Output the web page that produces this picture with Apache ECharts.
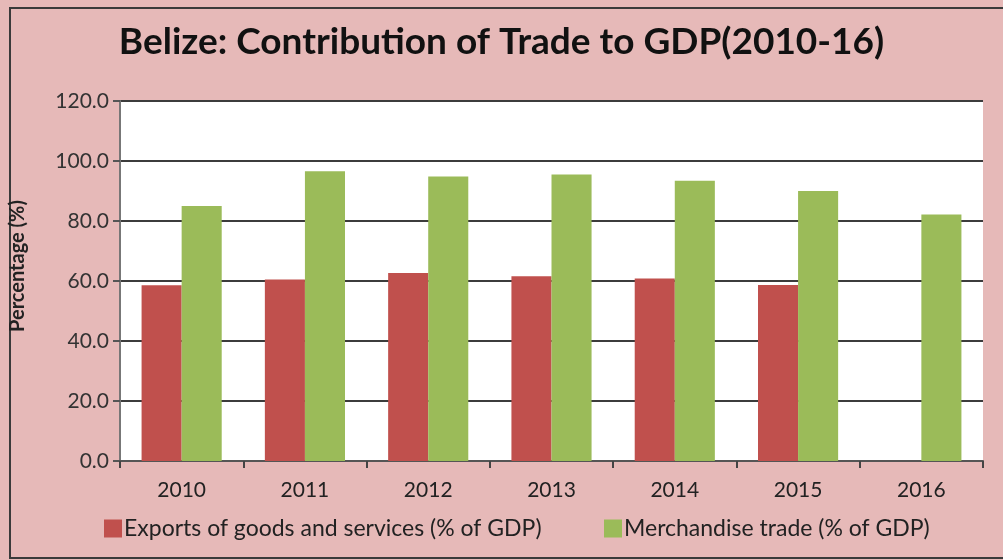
<!DOCTYPE html>
<html>
<head>
    <meta charset="UTF-8">
    <title>Belize: Contribution of Trade to GDP</title>
    <script src="https://cdn.jsdelivr.net/npm/echarts@6/dist/echarts.min.js"></script>
    <style>
        html, body {margin: 0; padding: 0; background: #e6b9b8;}
        #chart {width: 1003px; height: 560px;}
    </style>
</head>
<body>
    <div id="chart"></div>

    <script>
        // data
        const years = ['2010', '2011', '2012', '2013', '2014', '2015', '2016'];
        const exportsGdp = [58.6, 60.5, 62.7, 61.6, 60.8, 58.7, null];
        const merchandiseGdp = [85.0, 96.6, 94.8, 95.5, 93.4, 90.0, 82.2];
        const yTicks = [0, 20, 40, 60, 80, 100, 120];

        const font = 'Lato, "Open Sans", sans-serif';
        const chart = echarts.init(document.getElementById('chart'));

        chart.setOption({
            backgroundColor: '#e6b9b8',
            textStyle: { fontFamily: font },
            title: {
                text: 'Belize: Contribution of Trade to GDP(2010-16)',
                left: 'center',
                top: 19,
                textStyle: { fontSize: 37, fontWeight: 'bold', color: '#111', fontFamily: font }
            },
            graphic: [{
                type: 'rect',
                shape: { x: 10, y: 8, width: 1010, height: 550 },
                style: { fill: 'none', stroke: '#3a3a3a', lineWidth: 2 },
                silent: true
            }],
            legend: [
                {
                    data: ['Exports of goods and services (% of GDP)'],
                    left: 99, top: 512,
                    itemWidth: 18, itemHeight: 18, icon: 'rect',
                    textStyle: { fontSize: 23, color: '#222', padding: [0, 0, 0, -3] }
                },
                {
                    data: ['Merchandise trade (% of GDP)'],
                    left: 599, top: 512,
                    itemWidth: 18, itemHeight: 18, icon: 'rect',
                    textStyle: { fontSize: 23, color: '#222', padding: [0, 0, 0, -3] }
                }
            ],
            grid: { left: 118, right: 20, top: 101, bottom: 99, show: true, backgroundColor: '#ffffff', borderWidth: 0 },
            xAxis: {
                type: 'category',
                data: years,
                axisLine: { lineStyle: { color: '#555', width: 2 } },
                axisTick: { show: true, length: 7, lineStyle: { color: '#444', width: 2 } },
                axisLabel: { fontSize: 21, color: '#222', margin: 19 }
            },
            yAxis: {
                type: 'value',
                min: yTicks[0],
                max: yTicks[yTicks.length - 1],
                interval: 20,
                name: 'Percentage (%)',
                nameLocation: 'middle',
                nameRotate: 90,
                nameGap: 92,
                nameTextStyle: { fontSize: 20, fontWeight: 'bold', color: '#222', padding: [0, 0, 0, 30] },
                axisLine: { show: true, lineStyle: { color: '#777', width: 2 } },
                axisTick: { show: true, length: 7, lineStyle: { color: '#555', width: 2 } },
                axisLabel: { fontSize: 21, color: '#333', margin: 11, formatter: v => v.toFixed(1) },
                splitLine: { lineStyle: { color: '#3c3c3c', width: 2 } }
            },
            series: [
                {
                    name: 'Exports of goods and services (% of GDP)',
                    type: 'bar',
                    data: exportsGdp,
                    barGap: '0%',
                    barCategoryGap: '35%',
                    itemStyle: { color: '#c0504d' }
                },
                {
                    name: 'Merchandise trade (% of GDP)',
                    type: 'bar',
                    data: merchandiseGdp,
                    itemStyle: { color: '#9bbb59' }
                }
            ]
        });
    </script>
</body>
</html>
